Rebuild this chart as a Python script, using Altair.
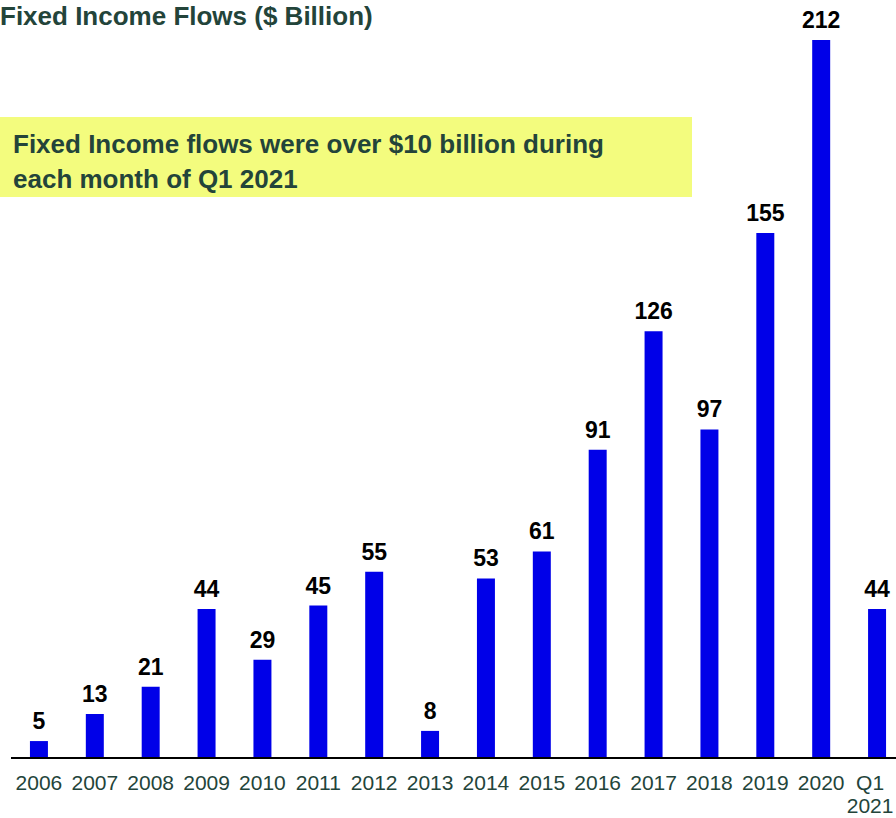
import altair as alt
import pandas as pd

categories = ["2006", "2007", "2008", "2009", "2010", "2011", "2012", "2013",
              "2014", "2015", "2016", "2017", "2018", "2019", "2020", "Q1 2021"]
values = [5, 13, 21, 44, 29, 45, 55, 8, 53, 61, 91, 126, 97, 155, 212, 44]

title_text = "Fixed Income Flows ($ Billion)"
note_lines = ["Fixed Income flows were over $10 billion during", "each month of Q1 2021"]

FONT = "Liberation Sans"
GREEN = "#23443A"
BLUE = "#0000E8"

df = pd.DataFrame({"cat": categories, "val": values})

x_enc = alt.X("cat:N", sort=categories,
              scale=alt.Scale(domain=categories, range=[0, 894], paddingInner=0.678, paddingOuter=0.339),
              axis=alt.Axis(title=None, domain=False, ticks=False, grid=False, labelAngle=0,
                            labelFont=FONT, labelFontSize=21, labelColor=GREEN,
                            labelPadding=14, labelLineHeight=23, labelOverlap=False,
                            labelOffset={"condition": {"test": "datum.value == 'Q1 2021'", "value": -7},
                                         "value": 0},
                            labelExpr="datum.value == 'Q1 2021' ? ['Q1', '2021'] : datum.label"))
y_enc = alt.Y("val:Q", scale=alt.Scale(domain=[0, 223.8], nice=False, zero=True), axis=None)

base = alt.Chart(df)

bars = base.mark_bar(color=BLUE).encode(x=x_enc, y=y_enc)
labels = base.mark_text(font=FONT, fontSize=23, fontWeight="bold", color="black",
                        baseline="alphabetic", dy=-12).encode(x=x_enc, y=y_enc, text="val:Q")

one = pd.DataFrame({"k": [0]})
box = alt.Chart(one).mark_rect(color="#F3FC7E").encode(
    x=alt.value(-11), x2=alt.value(681), y=alt.value(117), y2=alt.value(197))
note = alt.Chart(one).mark_text(font=FONT, fontSize=26, fontWeight="bold", color=GREEN,
                                align="left", baseline="alphabetic", lineHeight=35).encode(
    x=alt.value(2), y=alt.value(153), text=alt.value(note_lines))
title = alt.Chart(one).mark_text(font=FONT, fontSize=26, fontWeight="bold", color=GREEN,
                                 align="left", baseline="alphabetic").encode(
    x=alt.value(-11), y=alt.value(25), text=alt.value(title_text))
baseline_rule = alt.Chart(one).mark_rule(color="black", strokeWidth=2).encode(
    x=alt.value(0), x2=alt.value(885), y=alt.value(758))

chart = alt.layer(box, note, title, bars, labels, baseline_rule).properties(
    width=885, height=758,
    background="white",
    autosize=alt.AutoSizeParams(type="none"),
    padding={"left": 11, "right": 0, "top": 0, "bottom": 60},
).configure_view(stroke=None, strokeWidth=0)

chart.save("out.html", embed_options={"renderer": "svg", "actions": False})
